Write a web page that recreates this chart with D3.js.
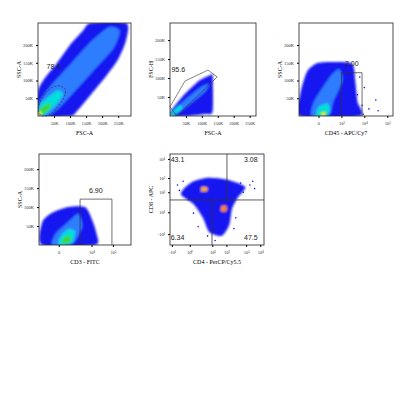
<!DOCTYPE html><html><head><script src="https://cdn.jsdelivr.net/npm/d3@7"></script>
<style>body{margin:0;background:#fff}</style></head><body><svg id="c" width="416" height="416"></svg>
<script>
// ---------- data ----------
const colors = ["#1414f0","#2f7dff","#00dede","#3ad83a","#f6f600","#ff3a00"];
// panel 1: FSC-A vs SSC-A (K units)
const p1Levels = [
 [[0,0],[0,70],[20,105],[60,150],[100,200],[140,240],[165,262],[275,262],[275,215],[250,160],[210,110],[160,55],[120,12],[100,0]],
 [[0,5],[5,40],[40,85],[100,145],[160,205],[220,250],[255,240],[235,190],[170,125],[110,65],[60,18],[30,0]],
 [[0,0],[5,30],[30,52],[60,72],[78,62],[60,35],[30,10],[15,0]],
 [[0,0],[3,15],[20,30],[40,36],[36,20],[15,5]],
 [[0,0],[2,9],[10,13],[9,3]],
 [[0,0],[1,4],[5,5],[4,1]]];
const p1Gate = [[3,30],[18,58],[40,78],[65,85],[85,75],[80,50],[60,25],[40,5],[15,0],[3,10]];
const p1XTicks = [50,100,150,200,250], p1XLabels = ["50K","100K","150K","200K","250K"];
const p1YTicks = [50,100,150,200], p1YLabels = ["50K","100K","150K","200K"];
// panel 2: FSC-A vs FSC-H
const p2Levels = [
 [[0,0],[0,10],[40,52],[90,92],[128,108],[134,106],[134,12],[110,5],[60,0]],
 [[0,0],[20,22],[60,52],[100,78],[122,84],[112,66],[70,36],[30,10]],
 [[0,0],[10,13],[32,28],[38,20],[15,5]],
 [[0,0],[3,4],[10,6],[6,1]]];
const p2Gate = [[0,24],[47,92],[119,121],[148,103],[22,0]];
const p2YTicks = [50,100,150,200], p2YLabels = ["50K","100K","150K","200K"];
// panel 3: CD45 (display decades) vs SSC-A
const p3Levels = [
 [[-0.8,0],[-0.8,60],[-0.5,125],[0,150],[1,152],[1.5,145],[1.6,100],[1.7,40],[1.8,0]],
 [[-0.3,0],[-0.2,40],[0.5,110],[0.9,132],[1.05,100],[0.65,40],[0.45,0]],
 [[-0.1,0],[0,25],[0.4,36],[0.5,15],[0.3,0]],
 [[0.05,2],[0.1,12],[0.35,12],[0.35,3]],
 [[0.12,3],[0.15,9],[0.3,9],[0.3,3]]];
const p3Dots = [[1.7,60],[1.9,30],[2.0,80],[2.2,20],[2.5,45],[1.8,110],[2.6,15],[1.95,5]];
const p3Gate = {x0:1,x1:1.9,top:122};
const p3XTicks = [0,1,2,3], p3XLabels = ["0","10³","10⁴","10⁵"];
// panel 4: CD3 vs SSC-A
const p4Levels = [
 [[-0.5,0],[-0.5,60],[-0.2,85],[0.3,100],[0.8,100],[1.0,70],[1.15,30],[1.1,0]],
 [[-0.2,0],[-0.1,30],[0.3,62],[0.6,82],[0.72,50],[0.5,10],[0.3,0]],
 [[0,0],[0.05,22],[0.3,42],[0.5,36],[0.4,5]],
 [[0.1,5],[0.15,20],[0.35,25],[0.35,8]]];
const p4Gate = {x0:0.65,x1:1.62,top:121};
const p4XTicks = [0,1,1.65], p4XLabels = ["0","10⁴","10⁵"];
// panel 5: CD4 vs CD8 (display units 0-100)
const p5Levels = [
 [[15,62],[25,70],[40,74],[60,72],[80,64],[72,52],[66,40],[63,22],[55,10],[42,14],[35,30],[25,45],[12,55]],
 [[30,58],[33,66],[42,65],[42,57]],
 [[52,34],[53,46],[62,46],[63,34]],
 [[33,59],[34,64],[40,63],[39,59]],
 [[54,37],[55,43],[60,43],[60,37]]];
const p5Dots = [[8,66],[10,60],[14,70],[75,68],[85,66],[88,70],[78,58],[70,30],[30,20],[25,35],[48,5],[40,10],[68,18],[20,50],[90,62]];
const p5Quad = {h:49.5, vUp:60.6, vLow:44.7};
const p5XTicks = [2,21,45,60,81,96], p5XLabels = ["-10¹","10⁰","10¹","10²","10³","10⁴"];
const p5YTicks = [12,36,58,73.6,94.5], p5YLabels = ["-10¹","10¹","10²","10³","10⁴"];
const quadLabels = ["43.1","3.08","6.34","47.5"];

// ---------- drawing ----------
const svg = d3.select("#c");
const defs = svg.append("defs");
defs.append("filter").attr("id","bl").append("feGaussianBlur").attr("stdDeviation",0.8);
let cid=0;
function panel(o){
  const x = d3.scaleLinear().domain(o.xd).range([o.l,o.r]);
  const y = d3.scaleLinear().domain(o.yd).range([o.b,o.t]);
  const id="cp"+(cid++);
  defs.append("clipPath").attr("id",id).append("rect").attr("x",o.l).attr("y",o.t).attr("width",o.r-o.l).attr("height",o.b-o.t);
  const g = svg.append("g");
  const dg = g.append("g").attr("clip-path",`url(#${id})`).append("g").attr("filter","url(#bl)");
  const line = d3.line().x(d=>x(d[0])).y(d=>y(d[1])).curve(d3.curveCardinalClosed.tension(0.3));
  (o.levels||[]).forEach((p,i)=>dg.append("path").attr("d",line(p)).attr("fill",o.cols?o.cols[i]:colors[i]));
  g.append("rect").attr("x",o.l).attr("y",o.t).attr("width",o.r-o.l).attr("height",o.b-o.t).attr("fill","none").attr("stroke","#222").attr("stroke-width",0.8);
  const ax = g.append("g").attr("transform",`translate(0,${o.b})`).call(d3.axisBottom(x).tickValues(o.xt).tickFormat((d,i)=>o.xl[i]).tickSize(2).tickPadding(4));
  const ay = g.append("g").attr("transform",`translate(${o.l},0)`).call(d3.axisLeft(y).tickValues(o.yt).tickFormat((d,i)=>o.yl[i]).tickSize(2).tickPadding(3));
  [ax,ay].forEach(a=>{a.select(".domain").remove();a.selectAll("text").attr("font-family","Liberation Serif").attr("font-size",4.5).attr("fill","#333");});
  g.append("text").attr("x",(o.l+o.r)/2).attr("y",o.b+19).attr("text-anchor","middle").attr("font-family","Liberation Serif").attr("font-size",6).text(o.xt2);
  g.append("text").attr("transform",`translate(${o.l-17},${(o.t+o.b)/2}) rotate(-90)`).attr("text-anchor","middle").attr("font-family","Liberation Serif").attr("font-size",6).text(o.yt2);
  return {g,x,y,line};
}
function lbl(g,x,y,t){g.append("text").attr("x",x).attr("y",y).attr("text-anchor","middle").attr("font-family","Liberation Sans").attr("font-size",7).attr("fill","#222").text(t);}
function dots(P,arr){P.g.selectAll(null).data(arr).enter().append("circle").attr("cx",d=>P.x(d[0])).attr("cy",d=>P.y(d[1])).attr("r",0.8).attr("fill","#1414f0");}

let P = panel({l:38,r:131,t:23,b:116,xd:[0,290],yd:[0,262],levels:p1Levels,xt:p1XTicks,xl:p1XLabels,yt:p1YTicks,yl:p1YLabels,xt2:"FSC-A",yt2:"SSC-A"});
P.g.append("path").attr("d",d3.line().x(d=>P.x(d[0])).y(d=>P.y(d[1])).curve(d3.curveCardinalClosed)(p1Gate)).attr("fill","none").attr("stroke","#333").attr("stroke-width",0.7).attr("stroke-dasharray","2,1.5");
lbl(P.g,P.x(48),P.y(132),"78.4");

P = panel({l:170,r:256,t:23,b:116,xd:[0,270],yd:[0,245],levels:p2Levels,xt:p1XTicks,xl:p1XLabels,yt:p2YTicks,yl:p2YLabels,xt2:"FSC-A",yt2:"FSC-H"});
P.g.append("path").attr("d",d3.line().x(d=>P.x(d[0])).y(d=>P.y(d[1])).curve(d3.curveLinearClosed)(p2Gate)).attr("fill","none").attr("stroke","#333").attr("stroke-width",0.6);
lbl(P.g,P.x(26),P.y(117),"95.6");

P = panel({l:299,r:393,t:23,b:116,xd:[-0.85,3.25],yd:[0,262],levels:p3Levels,xt:p3XTicks,xl:p3XLabels,yt:p1YTicks,yl:p1YLabels,xt2:"CD45 - APC/Cy7",yt2:"SSC-A"});
dots(P,p3Dots);
P.g.append("path").attr("d",`M${P.x(p3Gate.x0)},${P.y(0)}V${P.y(p3Gate.top)}H${P.x(p3Gate.x1)}V${P.y(0)}`).attr("fill","none").attr("stroke","#333").attr("stroke-width",0.7);
lbl(P.g,P.x(1.45),P.y(140),"2.00");

P = panel({l:39,r:131,t:154,b:245,xd:[-0.6,2.2],yd:[0,240],levels:p4Levels,xt:p4XTicks,xl:p4XLabels,yt:p1YTicks,yl:p1YLabels,xt2:"CD3 - FITC",yt2:"SSC-A"});
P.g.append("path").attr("d",`M${P.x(p4Gate.x0)},${P.y(0)}V${P.y(p4Gate.top)}H${P.x(p4Gate.x1)}V${P.y(0)}`).attr("fill","none").attr("stroke","#333").attr("stroke-width",0.7);
lbl(P.g,P.x(1.13),P.y(138),"6.90");

P = panel({l:170,r:264,t:154,b:245,xd:[0,100],yd:[0,100],levels:p5Levels,cols:["#1414f0","#1414f0","#1414f0","#ffaa00","#ff8800"],xt:p5XTicks,xl:p5XLabels,yt:p5YTicks,yl:p5YLabels,xt2:"CD4 - PerCP/Cy5.5",yt2:"CD8 - APC"});
dots(P,p5Dots);
P.g.append("path").attr("d",`M${P.x(0)},${P.y(p5Quad.h)}H${P.x(100)}M${P.x(p5Quad.vUp)},${P.y(100)}V${P.y(p5Quad.h)}M${P.x(p5Quad.vLow)},${P.y(p5Quad.h)}V${P.y(0)}`).attr("stroke","#333").attr("stroke-width",0.8).attr("fill","none");
lbl(P.g,P.x(8),P.y(91),quadLabels[0]);lbl(P.g,P.x(86),P.y(91),quadLabels[1]);
lbl(P.g,P.x(8),P.y(6),quadLabels[2]);lbl(P.g,P.x(86),P.y(6),quadLabels[3]);
</script></body></html>
